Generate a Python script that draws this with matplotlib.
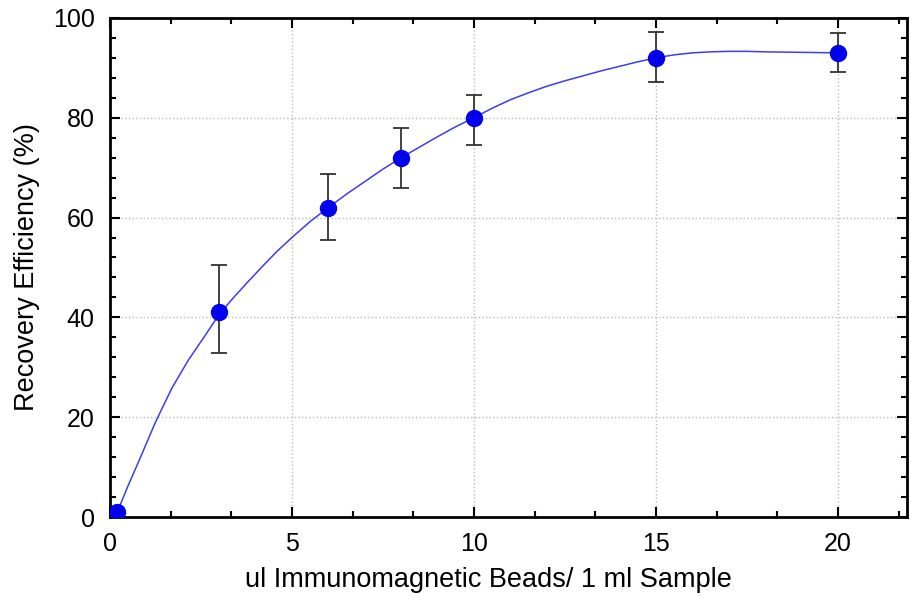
import matplotlib.pyplot as plt
from matplotlib.ticker import MultipleLocator

plt.rcParams['font.family'] = ['Liberation Sans', 'DejaVu Sans']

# Measured points
beads = [0.2, 3, 6, 8, 10, 15, 20]
recovery = [1, 41, 62, 72, 80, 92, 93]
err_low = [0, 8.2, 6.4, 6.0, 5.4, 4.8, 3.8]
err_high = [0, 9.4, 6.8, 6.0, 4.6, 5.2, 3.9]

# Fitted curve
curve_x = [0.2, 0.5, 0.8, 1.25, 1.7, 2.15, 2.6, 3.0, 3.4, 3.8, 4.2, 4.6,
           5.0, 5.5, 6.0, 6.5, 7.0, 7.5, 8.0, 8.5, 9.0, 9.5, 10.0, 10.5,
           11.0, 11.5, 12.0, 12.5, 13.0, 13.5, 14.0, 14.5, 15.0, 15.5,
           16.0, 16.5, 17.0, 17.5, 18.0, 19.0, 20.0]
curve_y = [1, 6.3, 11.3, 19.0, 25.8, 31.4, 36.2, 40.6, 44.0, 47.2, 50.3, 53.3,
           56.0, 59.2, 62.0, 64.7, 67.2, 69.7, 72.0, 74.1, 76.2, 78.2, 80.0, 81.9,
           83.6, 85.0, 86.3, 87.4, 88.4, 89.4, 90.3, 91.2, 92.0, 92.6,
           93.0, 93.2, 93.3, 93.3, 93.2, 93.1, 93.0]

fig = plt.figure(figsize=(9.11, 5.97), dpi=100)
ax = fig.add_axes([0.1207, 0.134, 0.875, 0.836])

ax.plot(curve_x, curve_y, color='#3c3cf0', lw=1.1, zorder=2)
# first point has no visible error bar
ax.errorbar(beads[1:], recovery[1:], yerr=[err_low[1:], err_high[1:]],
            fmt='none', ecolor='#333333', elinewidth=1.3, capsize=6,
            capthick=1.3, zorder=3)
ax.plot(beads, recovery, 'o', color='#0000ee', markersize=11.5, zorder=4)

ax.set_xlim(0, 21.9)
ax.set_ylim(0, 100)
ax.xaxis.set_major_locator(MultipleLocator(5))
ax.xaxis.set_minor_locator(MultipleLocator(5 / 3))
ax.yaxis.set_major_locator(MultipleLocator(20))
ax.yaxis.set_minor_locator(MultipleLocator(4))

ax.tick_params(which='both', direction='in', top=True, right=True,
               labelsize=18, width=1.5)
ax.tick_params(which='major', length=7, pad=11)
ax.tick_params(which='minor', length=4)
for sp in ax.spines.values():
    sp.set_linewidth(2)

ax.grid(True, which='major', linestyle=':', color='#bbbbbb', lw=1)

ax.set_xlabel("ul Immunomagnetic Beads/ 1 ml Sample", fontsize=19.5)
ax.xaxis.set_label_coords(0.475, -0.1)
ax.set_ylabel("Recovery Efficiency (%)", fontsize=19.5, labelpad=9)

plt.savefig("out.png", dpi=100)
